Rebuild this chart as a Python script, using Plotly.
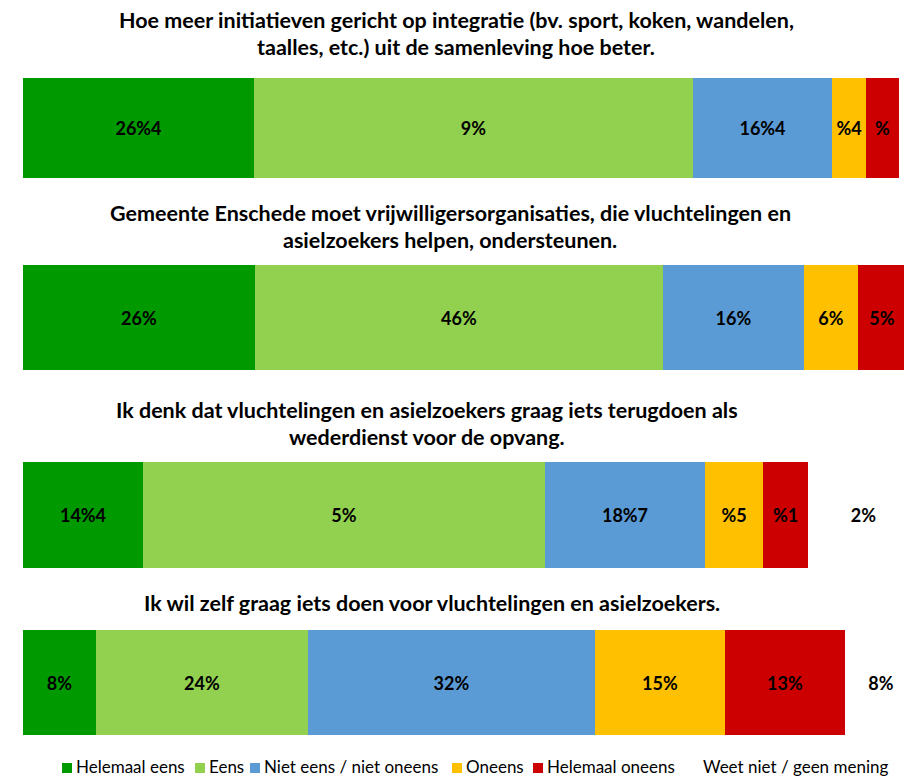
import plotly.graph_objects as go

# ---------------- data ----------------
question_lines = [
    ["Hoe meer initiatieven gericht op integratie (bv. sport, koken, wandelen,",
     "taalles, etc.) uit de samenleving hoe beter."],
    ["Gemeente Enschede moet vrijwilligersorganisaties, die vluchtelingen en",
     "asielzoekers helpen, ondersteunen."],
    ["Ik denk dat vluchtelingen en asielzoekers graag iets terugdoen als",
     "wederdienst voor de opvang."],
    ["Ik wil zelf graag iets doen voor vluchtelingen en asielzoekers."],
]
categories = ["Helemaal eens", "Eens", "Niet eens / niet oneens",
              "Oneens", "Helemaal oneens", "Weet niet / geen mening"]

helemaal_eens = [25.9, 26.0, 13.5, 8.2]
eens = [49.2, 45.7, 45.0, 23.8]
niet_eens_niet_oneens = [15.6, 15.8, 18.0, 32.1]
oneens = [3.8, 6.1, 6.5, 14.6]
helemaal_oneens = [3.7, 5.4, 5.0, 13.5]
weet_niet = [1.8, 1.0, 12.4, 8.0]

# data labels exactly as printed in the chart
labels_helemaal_eens = ["26%4", "26%", "14%4", "8%"]
labels_eens = ["9%", "46%", "5%", "24%"]
labels_niet = ["16%4", "16%", "18%7", "32%"]
labels_oneens = ["%4", "6%", "%5", "15%"]
labels_helemaal_oneens = ["%", "5%", "%1", "13%"]
labels_weet_niet = ["", "", "2%", "8%"]

series = [helemaal_eens, eens, niet_eens_niet_oneens, oneens, helemaal_oneens, weet_niet]
series_labels = [labels_helemaal_eens, labels_eens, labels_niet, labels_oneens,
                 labels_helemaal_oneens, labels_weet_niet]
colors = ["#009900", "#92D050", "#5B9BD5", "#FFC000", "#CC0000", "#FFFFFF"]

# ---------------- layout constants (page pixel coordinates) ----------------
OFF = 8                     # default page margin of the html body
W, H = 912 - OFF, 777 - OFF
LEFT = 23 - OFF
row_px = [(78, 178), (265, 370), (462, 568), (630, 735)]      # bar top/bottom
title_line_px = [[20, 47], [213, 240], [410, 437], [603]]       # title line centres (y)
title_center_px = [456, 450, 427, 432]                          # title centres (x)
legend_swatch_px = [62, 195, 250, 452, 533, 689]
legend_y_px = 766

TITLE_FONT = dict(family="Lato", size=21.5, color="#000000", weight="bold")
LABEL_FONT = dict(family="Lato", size=18, color="#000000", weight="bold")
LEGEND_FONT = dict(family="Lato", size=17, color="#000000")

def py(px):
    return 1 - (px - OFF) / H

def px_x(px):
    return (px - OFF - LEFT) / (W - LEFT)

fig = go.Figure()
layout_axes = {}
for r in range(4):
    ax = "" if r == 0 else str(r + 1)
    for s, vals in enumerate(series):
        fig.add_trace(go.Bar(
            x=[vals[r]], y=[""], orientation="h",
            name=categories[s],
            marker=dict(color=colors[s], line=dict(width=0)),
            text=[series_labels[s][r]],
            textposition="inside", insidetextanchor="middle", textangle=0,
            insidetextfont=LABEL_FONT,
            xaxis="x" + ax, yaxis="y" + ax,
            showlegend=False, hoverinfo="skip",
        ))
    top, bot = row_px[r]
    layout_axes["xaxis" + ax] = dict(domain=[0, 1], range=[0, (W - LEFT) / 8.92],
                                     visible=False, anchor="y" + ax, fixedrange=True)
    layout_axes["yaxis" + ax] = dict(domain=[py(bot), py(top)], visible=False,
                                     anchor="x" + ax, fixedrange=True)

annotations = []
for r in range(4):
    for line, ypx in zip(question_lines[r], title_line_px[r]):
        annotations.append(dict(
            text=line, x=px_x(title_center_px[r]), y=py(ypx),
            xref="paper", yref="paper",
            xanchor="center", yanchor="middle", showarrow=False, font=TITLE_FONT))

shapes = []
for name, col, xs in zip(categories, colors, legend_swatch_px):
    shapes.append(dict(type="rect", xref="paper", yref="paper",
                       x0=px_x(xs), x1=px_x(xs + 10),
                       y0=py(legend_y_px + 7), y1=py(legend_y_px - 3),
                       fillcolor=col, line=dict(width=0)))
    annotations.append(dict(
        text=name, x=px_x(xs + 13), y=py(legend_y_px),
        xref="paper", yref="paper", xanchor="left", yanchor="middle",
        showarrow=False, font=LEGEND_FONT, borderpad=0))

fig.update_layout(
    width=W, height=H,
    margin=dict(l=LEFT, r=0, t=0, b=0),
    paper_bgcolor="#FFFFFF", plot_bgcolor="#FFFFFF",
    barmode="stack", bargap=0,
    uniformtext=dict(minsize=18, mode="show"),
    annotations=annotations, shapes=shapes,
    **layout_axes,
)

fig.write_html("out.html")
